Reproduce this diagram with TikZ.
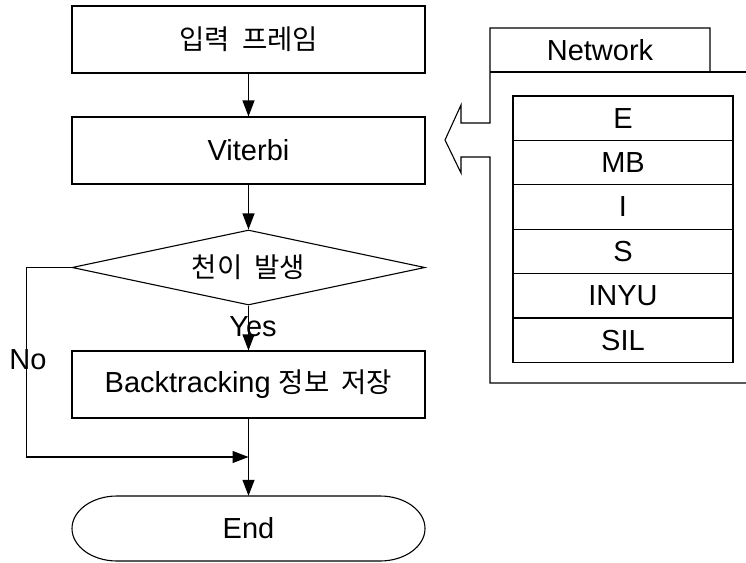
\documentclass[tikz,border=0pt]{standalone}
\usepackage{fontspec}
\setmainfont{Liberation Sans}
\newfontfamily\kr[WordSpace={2}]{Noto Sans CJK KR}
\usetikzlibrary{shapes.geometric,arrows.meta}

\newcommand{\krtext}[1]{{\kr\fontsize{27.5}{31}\selectfont #1}}

\tikzset{
  base/.style={line width=1.1pt, draw=black},
  procbox/.style={base, minimum width=353pt, minimum height=67pt, inner sep=0pt,
    font=\fontsize{29}{33}\selectfont},
  decision/.style={base, diamond, shape aspect=4.7, minimum width=353pt,
    minimum height=75pt, inner sep=0pt, font=\fontsize{29}{33}\selectfont},
  cell/.style={base, minimum width=220pt, minimum height=44.4pt, inner sep=0pt,
    font=\fontsize{29}{33}\selectfont},
  lbl/.style={font=\fontsize{29}{33}\selectfont, inner sep=0pt},
  flow/.style={line width=1.1pt, -{Triangle[length=16pt,width=12pt]}},
}

\begin{document}
\begin{tikzpicture}[x=1pt,y=-1pt]
  \useasboundingbox (0,0) rectangle (746,562);
  \clip (0,0) rectangle (746,562);

  % main flow
  \node[procbox] (input) at (248.5,39.5) {\krtext{입력 프레임}};
  \node[procbox] (viterbi) at (248.5,150.5) {Viterbi};
  \node[decision] (trans) at (248.5,267.5) {\raisebox{3pt}{\krtext{천이 발생}}};
  \node[procbox] (back) at (248.5,384.5) {Backtracking \krtext{정보 저장}};

  % terminal: flattened capsule
  \node[lbl, minimum width=353pt, minimum height=65pt] (end) at (248.5,528.5) {End};
  \draw[base] (117,496) -- (380,496)
    arc[start angle=-90, end angle=90, x radius=45, y radius=32.5]
    -- (117,561)
    arc[start angle=90, end angle=270, x radius=45, y radius=32.5] -- cycle;

  \coordinate (join) at (248.5,457);

  \draw[flow] (input) -- (viterbi);
  \draw[flow] (viterbi) -- (trans);
  \draw[flow] (trans.south) -- (back.north);
  \draw[line width=1.1pt] (back.south) -- (join);
  \draw[flow] (join) -- (end.north);
  \draw[flow] (trans.west) -- ++(-45,0) |- (join);

  \node[lbl] (yes) at (253,327) {Yes};
  \node[lbl] (no) at (28,360) {No};

  % network panel with its tab and the notched arrow
  \node[lbl, minimum width=220pt, minimum height=44pt] (nettab) at (600,50) {Network};
  \draw[base] (490,72) -- (760,72);
  \draw[base] (710,72) -- (710,28) -- (490,28) -- (490,123) -- (461,123)
    -- (461,105) -- (445,140) -- (461,173) -- (461,157) -- (490,157)
    -- (490,383) -- (760,383);

  \node[cell] (cE)    at (623,118.2) {E};
  \node[cell] (cMB)   at (623,162.6) {MB};
  \node[cell] (cI)    at (623,207)   {I};
  \node[cell] (cS)    at (623,251.4) {S};
  \node[cell] (cINYU) at (623,295.8) {INYU};
  \node[cell] (cSIL)  at (623,340.2) {SIL};
\end{tikzpicture}
\end{document}
